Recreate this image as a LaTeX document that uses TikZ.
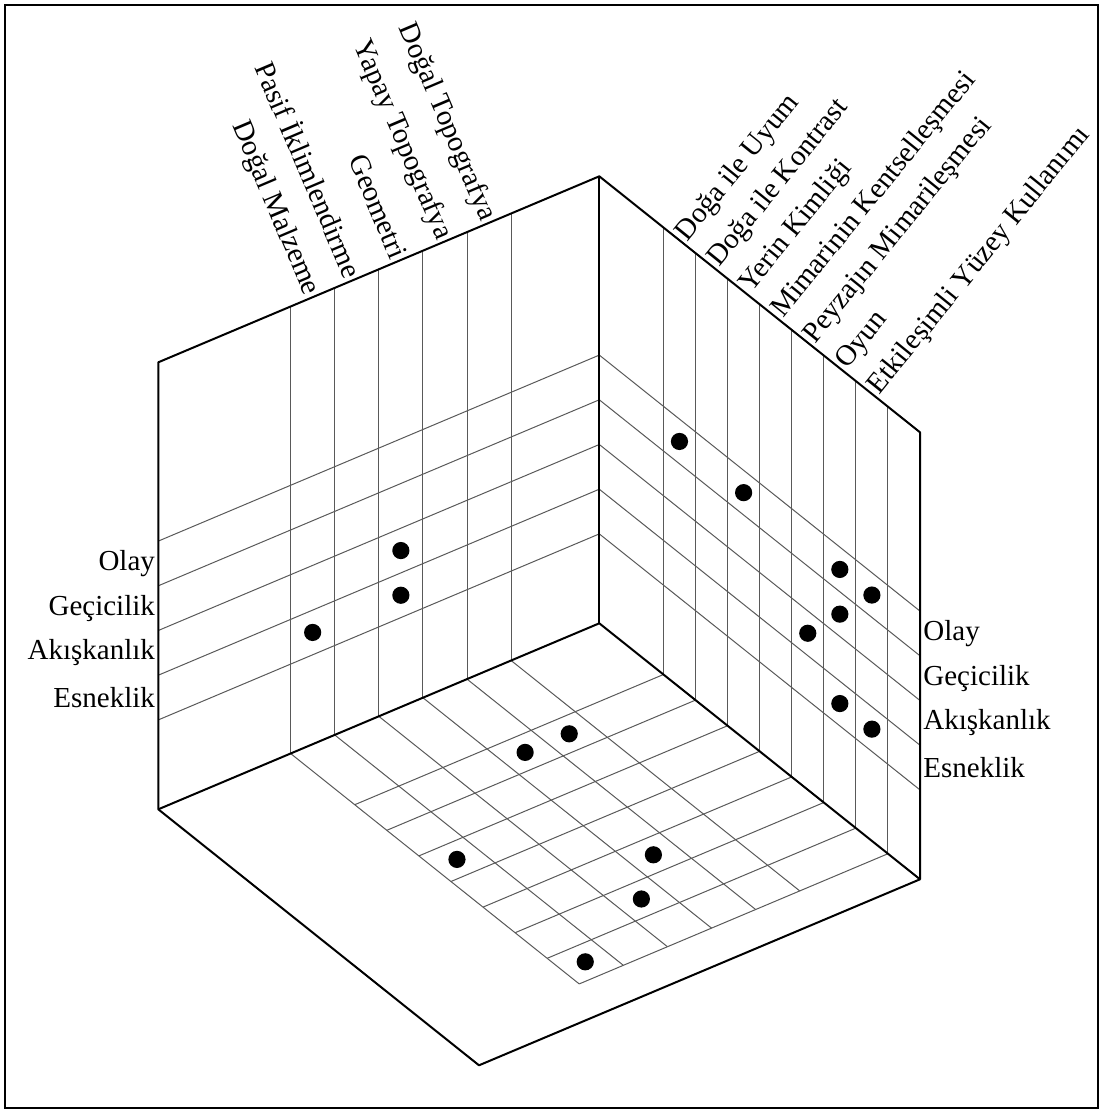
\documentclass[tikz,border=0pt]{standalone}
\usepackage{fontspec}
\setmainfont{Liberation Serif}
\usetikzlibrary{
    positioning,
    calc
}
\tikzstyle{edge} = [
    draw=black,
    line width=1pt,
    line join=round
]
\tikzstyle{gridline} = [
    draw=black!65,
    line width=0.5pt
]
\tikzstyle{dot} = [
    circle,
    fill=black,
    inner sep=0pt,
    minimum size=8.6pt
]
\tikzstyle{rowlabel} = [
    font=\fontsize{14.5}{17}\selectfont,
    inner sep=1.5pt
]
\tikzstyle{collabel} = [
    font=\fontsize{14.5}{17}\selectfont,
    inner sep=1.5pt
]

\begin{document}
\begin{tikzpicture}[x=0.5pt, y=-0.5pt]
        \useasboundingbox (0,0) rectangle (1103,1113);
        \draw[line width=1pt] (5,5) rectangle (1098,1108);

        \begin{scope}[shift={(599.3,623.3)}, x={(-220.5pt,-93pt)}, y={(160.35pt,-128pt)}, z={(0pt,223.5pt)}]
        % Corners
        \coordinate (back) at (0,0,0);
        \coordinate (backtop) at (0,0,1);
        \coordinate (lefttop) at (1,0,1);
        \coordinate (leftbot) at (1,0,0);
        \coordinate (righttop) at (0,1,1);
        \coordinate (rightbot) at (0,1,0);
        \coordinate (front) at (1,1,0);

        % Grid on the left wall
        \foreach \p in {0.2,0.3,...,0.75} \draw[gridline] (\p,0,0) -- (\p,0,1);
        \foreach \z in {0.2,0.3,...,0.65} \draw[gridline] (0,0,\z) -- (1,0,\z);
        % Grid on the right wall
        \foreach \q in {0.2,0.3,...,0.95} \draw[gridline] (0,\q,0) -- (0,\q,1);
        \foreach \z in {0.2,0.3,...,0.65} \draw[gridline] (0,0,\z) -- (0,1,\z);
        % Grid on the floor
        \foreach \p in {0.2,0.3,...,0.75} \draw[gridline] (\p,0,0) -- (\p,0.9,0);
        \foreach \q in {0.2,0.3,...,0.95} \draw[gridline] (0,\q,0) -- (0.7,\q,0);

        % Cube edges
        \draw[edge] (leftbot) -- (lefttop) -- (backtop) -- (righttop) -- (rightbot) -- (front) -- cycle;
        \draw[edge] (backtop) -- (back);
        \draw[edge] (leftbot) -- (back) -- (rightbot);

        % Row labels
        \node[rowlabel, anchor=east] (olayL) at (1,0,0.55) {Olay};
        \node[rowlabel, anchor=east] (gecL) at (1,0,0.45) {Geçicilik};
        \node[rowlabel, anchor=east] (akisL) at (1,0,0.35) {Akışkanlık};
        \node[rowlabel, anchor=east] (esnL) at (1,0,0.25) {Esneklik};
        \node[rowlabel, anchor=west] (olayR) at (0,1,0.55) {Olay};
        \node[rowlabel, anchor=west] (gecR) at (0,1,0.45) {Geçicilik};
        \node[rowlabel, anchor=west] (akisR) at (0,1,0.35) {Akışkanlık};
        \node[rowlabel, anchor=west] (esnR) at (0,1,0.25) {Esneklik};

        % Column labels, left wall
        \node[collabel, rotate=-67, anchor=east] (malzeme) at (0.65,0,1) {Doğal Malzeme};
        \node[collabel, rotate=-67, anchor=east] (iklim) at (0.55,0,1) {Pasif İklimlendirme};
        \node[collabel, rotate=-67, anchor=east] (geometri) at (0.45,0,1) {Geometri};
        \node[collabel, rotate=-67, anchor=east] (yapay) at (0.35,0,1) {Yapay Topografya};
        \node[collabel, rotate=-67, anchor=east] (dogaltopo) at (0.25,0,1) {Doğal Topografya};

        % Column labels, right wall
        \node[collabel, rotate=51, anchor=west] (uyum) at (0,0.25,1) {Doğa ile Uyum};
        \node[collabel, rotate=51, anchor=west] (kontrast) at (0,0.35,1) {Doğa ile Kontrast};
        \node[collabel, rotate=51, anchor=west] (kimlik) at (0,0.45,1) {Yerin Kimliği};
        \node[collabel, rotate=51, anchor=west] (kentsel) at (0,0.55,1) {Mimarinin Kentselleşmesi};
        \node[collabel, rotate=51, anchor=west] (peyzaj) at (0,0.65,1) {Peyzajın Mimarileşmesi};
        \node[collabel, rotate=51, anchor=west] (oyun) at (0,0.75,1) {Oyun};
        \node[collabel, rotate=51, anchor=west] (yuzey) at (0,0.85,1) {Etkileşimli Yüzey Kullanımı};

        % Dots, left wall
        \node[dot] (l1) at (0.45,0,0.35) {};
        \node[dot] (l2) at (0.45,0,0.25) {};
        \node[dot] (l3) at (0.65,0,0.25) {};
        % Dots, right wall
        \node[dot] (r1) at (0,0.25,0.55) {};
        \node[dot] (r2) at (0,0.45,0.55) {};
        \node[dot] (r3) at (0,0.75,0.55) {};
        \node[dot] (r4) at (0,0.85,0.55) {};
        \node[dot] (r5) at (0,0.75,0.45) {};
        \node[dot] (r6) at (0,0.65,0.35) {};
        \node[dot] (r7) at (0,0.75,0.25) {};
        \node[dot] (r8) at (0,0.85,0.25) {};
        % Dots, floor
        \node[dot] (f1) at (0.25,0.25,0) {};
        \node[dot] (f2) at (0.35,0.25,0) {};
        \node[dot] (f3) at (0.65,0.45,0) {};
        \node[dot] (f4) at (0.35,0.65,0) {};
        \node[dot] (f5) at (0.45,0.75,0) {};
        \node[dot] (f6) at (0.65,0.85,0) {};
        \end{scope}
    \end{tikzpicture}
\end{document}
